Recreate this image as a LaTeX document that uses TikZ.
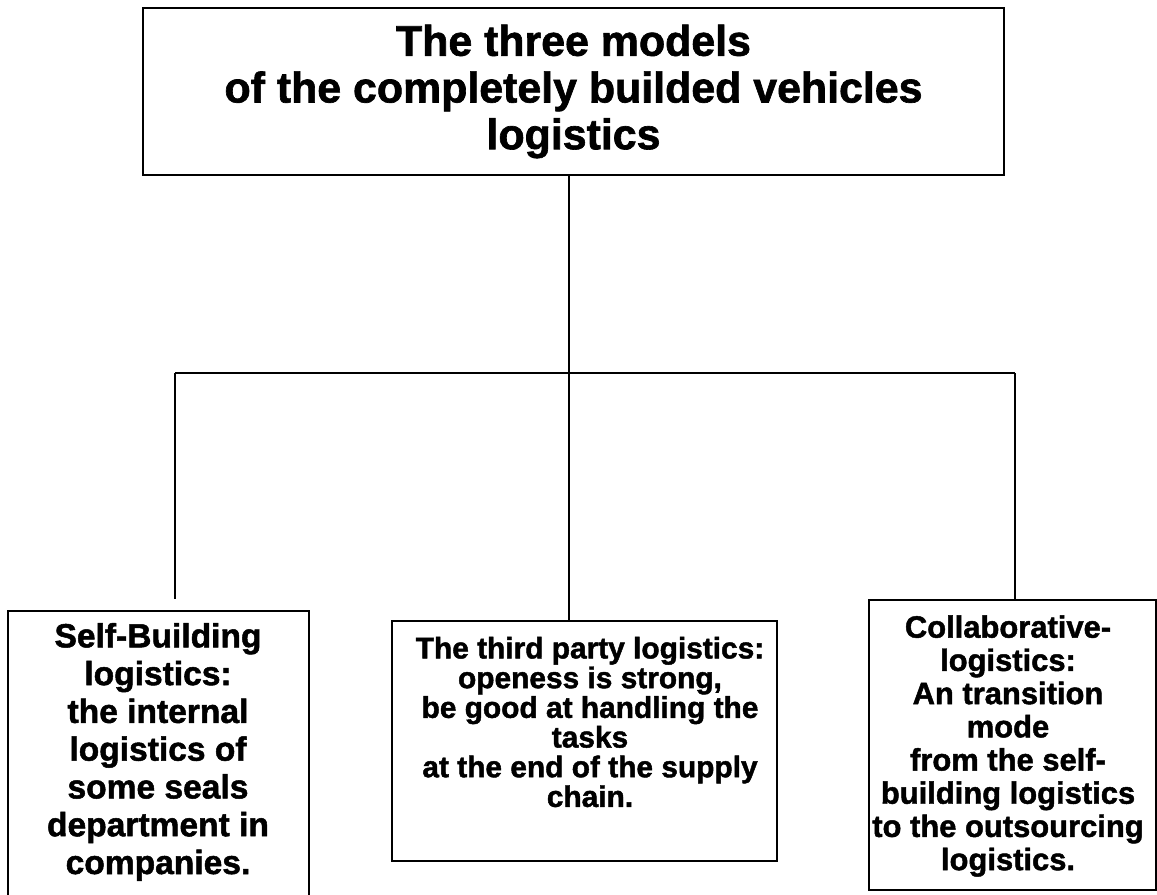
\documentclass[tikz,border=0pt]{standalone}
\usepackage{fontspec}
\setmainfont{Liberation Sans}[BoldFeatures={FakeBold=1.5}]
\begin{document}
\begin{tikzpicture}[x=0.02cm,y=-0.02cm,
  box/.style={draw=black,line width=1.1pt,rectangle,inner sep=0pt,fill=none},
  conn/.style={draw=black,line width=0.8pt},
  txt/.style={align=center,inner sep=0pt,font=\bfseries}]
\useasboundingbox (0,0) rectangle (1157,895);
% title box
\node[box,minimum width=17.22cm,minimum height=3.34cm,align=center,
  font=\bfseries\fontsize{24.4}{26.6}\selectfont] (title) at (573.5,91.5)
  {The three models\\of the completely builded vehicles\\logistics};
% bottom boxes
\node[box,minimum width=6.02cm,minimum height=5.74cm] (left) at (158.5,754.5) {};
\node[box,minimum width=7.7cm,minimum height=4.8cm] (mid) at (584.5,741) {};
\node[box,minimum width=5.74cm,minimum height=5.8cm] (right) at (1012.5,745) {};
% texts
\node[txt,font=\bfseries\fontsize{19.1}{21.5}\selectfont] (lefttext) at (158,752)
  {Self-Building\\logistics:\\the internal\\logistics of\\some seals\\department in\\companies.};
\node[txt,font=\bfseries\fontsize{17}{16.9}\selectfont] (midtext) at (590,722)
  {The third party logistics:\\openess is strong,\\be good at handling the\\tasks\\at the end of the supply\\chain.};
\node[txt,font=\bfseries\fontsize{17.6}{18.9}\selectfont] (righttext) at (1008,746)
  {Collaborative-\\logistics:\\An transition\\mode\\from the self-\\building logistics\\to the outsourcing\\logistics.};
% connectors
\coordinate (hub) at (569,373);
\coordinate (jl) at (175,373);
\coordinate (jr) at (1015,373);
\coordinate (lend) at (175,599);
\draw[conn] (title.south -| hub) -- (hub);
\draw[conn] (jl) -- (jr);
\draw[conn] (jl) -- (lend);
\draw[conn] (hub) -- (mid.north -| hub);
\draw[conn] (jr) -- (right.north -| jr);
\end{tikzpicture}
\end{document}
